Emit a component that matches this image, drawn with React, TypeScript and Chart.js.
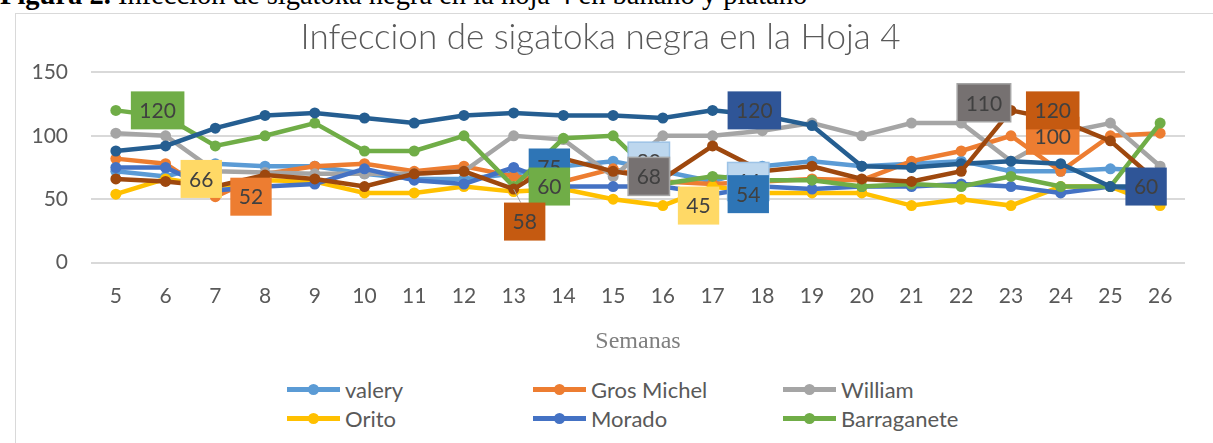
import React, { useEffect, useRef } from 'react';
import { Chart, registerables } from 'chart.js';

Chart.register(...registerables);

// ---- Data ----
const weeks = ['5', '6', '7', '8', '9', '10', '11', '12', '13', '14', '15', '16', '17', '18', '19', '20', '21', '22', '23', '24', '25', '26'];

const valery = [72, 68, 78, 76, 76, 70, 66, 66, 70, 76, 80, 72, 64, 76, 80, 76, 78, 80, 72, 72, 74, 72];
const grosMichel = [82, 78, 52, 70, 76, 78, 72, 76, 68, 64, 74, 64, 62, 64, 66, 65, 80, 88, 100, 72, 100, 102];
const william = [102, 100, 72, 71, 70, 70, 70, 72, 100, 97, 68, 100, 100, 104, 110, 100, 110, 110, 80, 102, 110, 76];
const orito = [54, 66, 60, 65, 64, 55, 55, 60, 56, 58, 50, 45, 60, 55, 55, 55, 45, 50, 45, 60, 60, 45];
const morado = [75, 75, 57, 60, 62, 74, 65, 62, 75, 60, 60, 60, 54, 60, 58, 60, 60, 62, 60, 55, 60, 56];
const barraganete = [120, 115, 92, 100, 110, 88, 88, 100, 60, 98, 100, 62, 68, 65, 65, 60, 62, 60, 68, 60, 60, 110];
const serie7 = [88, 92, 106, 116, 118, 114, 110, 116, 118, 116, 116, 114, 120, 116, 108, 76, 75, 78, 80, 78, 60, 60];
const serie8 = [66, 64, 60, 69, 66, 60, 70, 72, 58, 82, 72, 66, 92, 72, 76, 66, 64, 72, 120, 112, 96, 62];

const seriesNames = ['valery', 'Gros Michel', 'William', 'Orito', 'Morado', 'Barraganete', 'Serie 7', 'Serie 8'];
const seriesData = [valery, grosMichel, william, orito, morado, barraganete, serie7, serie8];
const seriesColors = ['#5B9BD5', '#ED7D31', '#A5A5A5', '#FFC000', '#4472C4', '#70AD47', '#255E91', '#9E480E'];
const legendShown = 6;

// value labels: series index, week index
const labelSeries = [0, 0, 1, 1, 2, 2, 3, 3, 4, 4, 5, 5, 6, 6, 7, 7];
const labelWeekIdx = [10, 12, 2, 18, 10, 17, 1, 11, 8, 12, 0, 8, 12, 20, 8, 18];

const labelStyles = [
  { fill: '#BDD7EE', border: '#9DC3E6' },
  { fill: '#BDD7EE', border: '#9DC3E6' },
  { fill: '#ED7D31' },
  { fill: '#ED7D31' },
  { fill: '#767171', border: '#A5A5A5' },
  { fill: '#767171', border: '#A5A5A5', dx: 22.7, dy: -20.3 },
  { fill: '#FFD966' },
  { fill: '#FFD966' },
  { fill: '#2E75B6' },
  { fill: '#2E75B6' },
  { fill: '#70AD47' },
  { fill: '#70AD47' },
  { fill: '#2F5597' },
  { fill: '#2F5597' },
  { fill: '#C55A11', dx: 11, dy: 32.5, leader: true },
  { fill: '#C55A11' },
];

const FONT = 'Lato, "Open Sans", sans-serif';

export default function App() {
  const ref = useRef<HTMLCanvasElement>(null);

  useEffect(() => {
    const labelPlugin = {
      id: 'valueLabels',
      afterDatasetsDraw(chart: any) {
        const ctx = chart.ctx;
        ctx.save();
        ctx.font = `21px ${FONT}`;
        ctx.textAlign = 'center';
        ctx.textBaseline = 'middle';
        for (let k = 0; k < labelSeries.length; k++) {
          const s = labelSeries[k];
          const i = labelWeekIdx[k];
          const st: any = labelStyles[k];
          const pt = chart.getDatasetMeta(s).data[i];
          const value = chart.data.datasets[s].data[i];
          const text = String(value);
          const w = ctx.measureText(text).width + 17;
          const h = 38;
          let cx: number, cy: number;
          if (st.dx !== undefined) {
            cx = pt.x + st.dx;
            cy = pt.y + st.dy;
          } else {
            cx = pt.x + 15 + w / 2;
            cy = pt.y;
          }
          if (st.leader) {
            ctx.strokeStyle = '#A5A5A5';
            ctx.lineWidth = 1;
            ctx.beginPath();
            ctx.moveTo(pt.x, pt.y);
            ctx.lineTo(cx - 4, cy - h / 2);
            ctx.stroke();
          }
          ctx.fillStyle = st.fill;
          ctx.fillRect(cx - w / 2, cy - h / 2, w, h);
          if (st.border) {
            ctx.strokeStyle = st.border;
            ctx.lineWidth = 1.5;
            ctx.strokeRect(cx - w / 2, cy - h / 2, w, h);
          }
          ctx.fillStyle = '#404040';
          ctx.fillText(text, cx, cy + 1);
        }
        ctx.restore();
      },
    };

    const chart = new Chart(ref.current!, {
      type: 'line',
      data: {
        labels: weeks,
        datasets: seriesData.map((d, i) => ({
          label: seriesNames[i],
          data: d,
          borderColor: seriesColors[i],
          backgroundColor: seriesColors[i],
          pointBackgroundColor: seriesColors[i],
          pointBorderColor: seriesColors[i],
          borderWidth: 4.5,
          pointRadius: 5.5,
          pointHoverRadius: 5.5,
          pointBorderWidth: 0,
          tension: 0,
          order: seriesData.length - i,
        })),
      },
      options: {
        responsive: false,
        animation: false,
        events: [],
        layout: { padding: { top: 0, right: 28, bottom: 0, left: 0 } },
        plugins: {
          legend: { display: false },
          tooltip: { enabled: false },
          title: {
            display: true,
            text: 'Infeccion de sigatoka negra en la Hoja 4',
            color: '#595959',
            font: { family: FONT, size: 35, weight: '300', lineHeight: 1.2 },
            padding: { top: 3, bottom: 13.3 },
          },
        },
        scales: {
          x: {
            offset: true,
            grid: { display: false, drawTicks: false },
            border: { display: false },
            ticks: {
              color: '#595959',
              font: { family: FONT, size: 21 },
              padding: 21,
              maxRotation: 0,
              autoSkip: false,
            },
            title: {
              display: true,
              text: 'Semanas',
              color: '#7F7F7F',
              font: { family: '"Liberation Serif", "Times New Roman", serif', size: 24, lineHeight: 1.2 },
              padding: { top: 0, bottom: 7.6 },
            },
            afterFit: (s: any) => {
              s.height = 101.3;
            },
          },
          y: {
            min: 0,
            max: 150,
            ticks: {
              stepSize: 50,
              color: '#595959',
              font: { family: FONT, size: 21 },
              padding: 23,
            },
            grid: { color: '#D9D9D9', lineWidth: 2, drawTicks: false },
            border: { display: false },
            afterFit: (s: any) => {
              s.width = 75;
            },
          },
        },
      },
      plugins: [labelPlugin],
    });
    return () => chart.destroy();
  }, []);

  const legendCols = [287, 533, 783];
  const legendRows = [389, 418];

  return (
    <div style={{ position: 'absolute', left: 0, top: 0, width: 1213, height: 443, overflow: 'hidden', background: '#fff' }}>
      <div
        style={{
          position: 'absolute',
          left: 0,
          top: -18.6,
          whiteSpace: 'nowrap',
          fontFamily: '"Liberation Serif", "Times New Roman", serif',
          fontSize: 28.5,
          lineHeight: '28.5px',
          color: '#000',
        }}
      >
        <b>Figura 2.</b> Infección de sigatoka negra en la hoja 4 en banano y plátano
      </div>
      <div
        style={{
          position: 'absolute',
          left: 15,
          top: 13,
          width: 1260,
          height: 500,
          border: '1px solid #D9D9D9',
          boxSizing: 'border-box',
        }}
      />
      <canvas
        ref={ref}
        width={1197}
        height={350}
        style={{ position: 'absolute', left: 16, top: 14, width: 1197, height: 350, display: 'block' }}
      />
      {seriesNames.slice(0, legendShown).map((name, i) => {
        const x = legendCols[i % 3];
        const y = legendRows[Math.floor(i / 3)];
        const c = seriesColors[i];
        return (
          <div
            key={name}
            style={{
              position: 'absolute',
              left: x,
              top: y - 13,
              height: 26,
              display: 'flex',
              alignItems: 'center',
              fontFamily: FONT,
              fontSize: 22,
              color: '#595959',
              whiteSpace: 'nowrap',
            }}
          >
            <span style={{ position: 'relative', display: 'inline-block', width: 53, height: 26, marginRight: 5 }}>
              <span style={{ position: 'absolute', left: 0, top: 11, width: 53, height: 4.5, background: c }} />
              <span
                style={{
                  position: 'absolute',
                  left: 21,
                  top: 7.5,
                  width: 11,
                  height: 11,
                  borderRadius: '50%',
                  background: c,
                }}
              />
            </span>
            {name}
          </div>
        );
      })}
    </div>
  );
}
